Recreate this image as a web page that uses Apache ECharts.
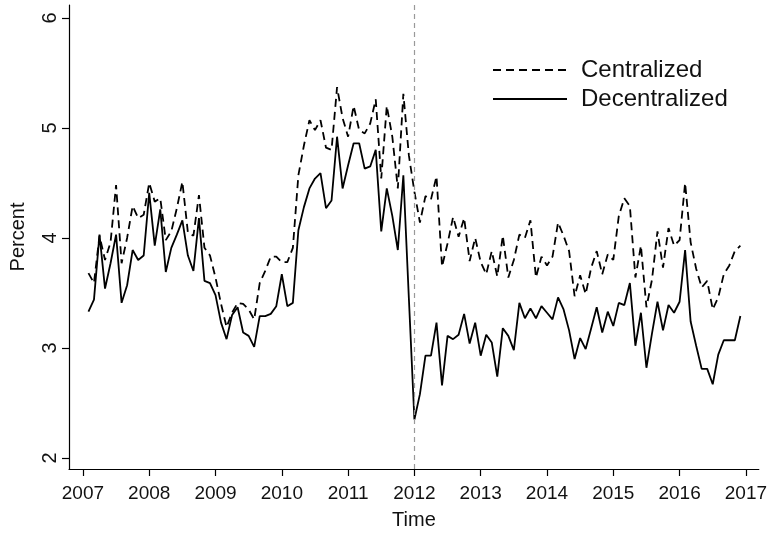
<!DOCTYPE html>
<html>
<head>
<meta charset="utf-8">
<script src="https://cdn.jsdelivr.net/npm/echarts@6/dist/echarts.min.js"></script>
<style>
  html, body { margin: 0; padding: 0; background: #fff; }
  #chart { width: 770px; height: 535px; }
</style>
</head>
<body>
<div id="chart"></div>
<script>
// Monthly series, February 2007 to December 2016 (119 months)
const firstYear = 2007;
const firstMonth = 2; // February

const centralized = [
  3.68, 3.59, 4.02, 3.80, 3.96, 4.48, 3.77, 4.00, 4.29, 4.18, 4.21,
  4.50, 4.33, 4.36, 3.98, 4.06, 4.27, 4.51, 4.05, 4.02, 4.39, 3.91, 3.84,
  3.64, 3.40, 3.19, 3.32, 3.41, 3.40, 3.35, 3.26, 3.59, 3.70, 3.83, 3.83,
  3.78, 3.78, 3.91, 4.57, 4.84, 5.07, 4.98, 5.07, 4.82, 4.80, 5.37, 5.09,
  4.92, 5.20, 4.98, 4.95, 5.04, 5.26, 4.54, 5.20, 4.92, 4.45, 5.31, 4.75,
  4.42, 4.14, 4.38, 4.35, 4.56, 3.74, 3.95, 4.19, 4.01, 4.18, 3.79, 4.00,
  3.78, 3.67, 3.88, 3.65, 4.02, 3.64, 3.80, 4.03, 4.00, 4.16, 3.64, 3.83,
  3.75, 3.83, 4.14, 4.02, 3.88, 3.47, 3.66, 3.49, 3.73, 3.88, 3.67, 3.85,
  3.80, 4.20, 4.36, 4.29, 3.64, 3.93, 3.37, 3.62, 4.06, 3.73, 4.09, 3.93,
  3.98, 4.50, 3.96, 3.72, 3.55, 3.61, 3.35, 3.46, 3.67, 3.75, 3.88, 3.93
];

const decentralized = [
  3.33, 3.44, 4.03, 3.54, 3.77, 4.03, 3.41, 3.57, 3.89, 3.80, 3.84,
  4.41, 3.93, 4.26, 3.69, 3.91, 4.03, 4.16, 3.84, 3.70, 4.18, 3.61, 3.59,
  3.48, 3.23, 3.08, 3.30, 3.37, 3.14, 3.11, 3.01, 3.29, 3.29, 3.31, 3.38,
  3.67, 3.38, 3.41, 4.07, 4.28, 4.45, 4.54, 4.59, 4.27, 4.34, 4.92, 4.45,
  4.66, 4.86, 4.86, 4.63, 4.65, 4.80, 4.06, 4.45, 4.20, 3.89, 4.57, 3.45,
  2.35, 2.58, 2.93, 2.93, 3.23, 2.66, 3.11, 3.08, 3.12, 3.31, 3.04, 3.23,
  2.93, 3.12, 3.05, 2.74, 3.18, 3.11, 2.98, 3.41, 3.27, 3.36, 3.27, 3.38,
  3.32, 3.26, 3.46, 3.35, 3.16, 2.90, 3.09, 2.99, 3.18, 3.37, 3.14, 3.33,
  3.20, 3.41, 3.39, 3.59, 3.02, 3.32, 2.82, 3.13, 3.42, 3.16, 3.39, 3.32,
  3.42, 3.89, 3.24, 3.02, 2.81, 2.81, 2.67, 2.94, 3.07, 3.07, 3.07, 3.29
];

const yearTicks = [2007, 2008, 2009, 2010, 2011, 2012, 2013, 2014, 2015, 2016, 2017];
const percentTicks = [2, 3, 4, 5, 6];
const breakYear = 2012;

// Time in fractional years (January = year + 0/12)
function monthTime(i) {
  return firstYear + (firstMonth - 1 + i) / 12;
}
const centralizedPts = centralized.map((v, i) => [monthTime(i), v]);
const decentralizedPts = decentralized.map((v, i) => [monthTime(i), v]);

const FONT = '"Liberation Sans", Arial, sans-serif';
const INK = '#111';

const chart = echarts.init(document.getElementById('chart'), null, { renderer: 'canvas' });
chart.setOption({
  animation: false,
  backgroundColor: '#fff',
  textStyle: { fontFamily: FONT, color: INK },
  grid: { left: 68, right: 4, top: 5, bottom: 52, containLabel: false },
  legend: {
    orient: 'vertical',
    left: 487,
    top: 53,
    itemWidth: 74,
    itemHeight: 14,
    itemGap: 5,
    selectedMode: false,
    itemStyle: { opacity: 0 },
    lineStyle: { opacity: 1 },
    textStyle: { fontFamily: FONT, fontSize: 24, lineHeight: 24, color: INK, padding: [0, 0, 0, 9] },
    data: ['Centralized', 'Decentralized']
  },
  xAxis: {
    type: 'value',
    min: 2006.79,
    max: 2017.195,
    name: 'Time',
    nameLocation: 'middle',
    nameGap: 41,
    nameTextStyle: { fontFamily: FONT, fontSize: 20, color: INK },
    axisLine: { show: true, lineStyle: { color: '#000', width: 1.2 } },
    axisTick: { show: true, customValues: yearTicks, length: 7, lineStyle: { color: '#000', width: 1.2 } },
    axisLabel: {
      customValues: yearTicks, fontSize: 19, color: INK, margin: 15, fontFamily: FONT,
      formatter: (v) => String(v)
    },
    splitLine: { show: false }
  },
  yAxis: {
    type: 'value',
    min: 1.9,
    max: 6.117,
    name: 'Percent',
    nameLocation: 'middle',
    nameRotate: 90,
    nameGap: 41,
    nameTextStyle: { fontFamily: FONT, fontSize: 20, color: INK },
    axisLine: { show: true, lineStyle: { color: '#000', width: 1.2 } },
    axisTick: { show: true, customValues: percentTicks, length: 7, lineStyle: { color: '#000', width: 1.2 } },
    axisLabel: { customValues: percentTicks, rotate: 90, fontSize: 20, color: INK, margin: 9, fontFamily: FONT },
    splitLine: { show: false }
  },
  series: [
    {
      name: 'Centralized',
      type: 'line',
      data: centralizedPts,
      symbol: 'none',
      showSymbol: false,
      lineStyle: { color: '#000', width: 1.8, type: [8, 5] },
      itemStyle: { color: '#000' },
      markLine: {
        silent: true,
        symbol: ['none', 'none'],
        label: { show: false },
        lineStyle: { color: '#999', width: 1.2, type: [5, 4] },
        data: [{ xAxis: breakYear }]
      }
    },
    {
      name: 'Decentralized',
      type: 'line',
      data: decentralizedPts,
      symbol: 'none',
      showSymbol: false,
      lineStyle: { color: '#000', width: 1.8, type: 'solid' },
      itemStyle: { color: '#000' }
    }
  ]
});
</script>
</body>
</html>
